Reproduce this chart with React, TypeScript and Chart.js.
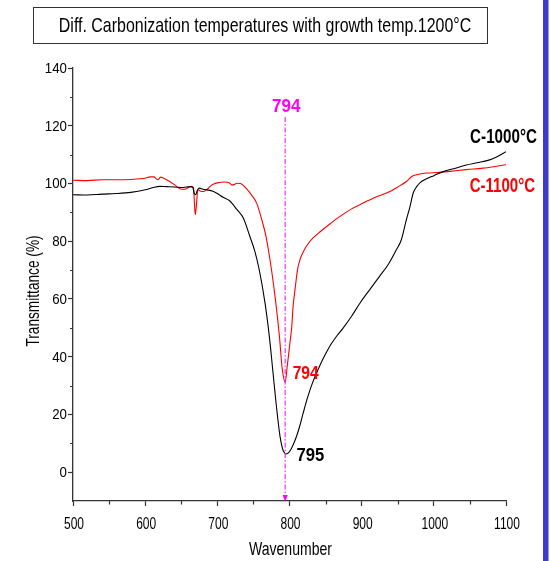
import { useEffect, useRef } from "react";
import { Chart, registerables } from "chart.js";

Chart.register(...registerables);

const FONT = "'Liberation Sans', Arial, Helvetica, sans-serif";
const AXIS_COLOR = "#333333";
const TEXT_COLOR = "#000000";
const MARKER_COLOR = "#ff00ff";

const titleText = "Diff. Carbonization temperatures with growth temp.1200°C";
const xAxisTitle = "Wavenumber";
const yAxisTitle = "Transmittance (%)";
const xTickLabels = [500, 600, 700, 800, 900, 1000, 1100];
const yTickLabels = [0, 20, 40, 60, 80, 100, 120, 140];

const seriesNames = ["C-1000°C", "C-1100°C"];

// C-1000°C spectrum
const wavenumber1000 = [
  500, 520, 540, 560, 580, 600, 611, 620, 630, 640, 653, 662, 666, 668, 670, 672, 675, 680,
  685, 694, 700, 708, 717, 727, 736, 745, 752, 758, 766, 772, 776.7, 781.3, 786.8, 790.5,
  793, 795, 798, 801, 804, 807, 810, 814, 819, 825, 832, 838, 846, 856, 865, 874, 886,
  898, 912, 925, 937, 948, 955, 962, 967, 971.5, 976, 981, 990, 1000, 1013, 1030, 1045,
  1060, 1075, 1087, 1100,
];
const transmittance1000 = [
  96.1, 96.0, 96.3, 96.5, 96.9, 97.8, 98.6, 99.0, 98.9, 98.8, 98.6, 98.9, 98.6, 96.5, 96.1,
  97.5, 98.4, 98.0, 97.8, 97.3, 96.5, 95.2, 94.0, 91.0, 88.0, 81.7, 76.5, 70.2, 58.7, 47.1,
  35.6, 24.1, 12.5, 8.0, 6.7, 6.3, 6.6, 7.5, 8.9, 10.6, 12.6, 15.8, 20.5, 25.8, 31.0, 34.6,
  39.0, 43.7, 47.0, 49.8, 54.0, 58.7, 63.5, 67.9, 72.0, 77.0, 80.5, 87.5, 92.0, 96.8, 98.8,
  100.3, 101.6, 102.7, 104.1, 105.3, 106.4, 107.2, 108.0, 109.2, 111.0,
];

// C-1100°C spectrum
const wavenumber1100 = [
  500, 520, 540, 560, 580, 600, 607, 612, 616, 618, 621, 625, 634, 641, 648, 655, 660, 664,
  667, 668.5, 669.5, 671, 673, 677, 681, 686, 690, 695, 700, 710, 717, 720, 723, 727, 732,
  738, 745, 754.5, 761.5, 767.4, 775, 781, 786, 790, 794, 797, 800.7, 803, 805, 808, 811,
  815, 820, 826, 833, 842, 855, 870, 886, 902, 920, 939, 950, 962, 970, 976, 990, 1004,
  1022, 1045, 1068, 1085, 1100,
];
const transmittance1100 = [
  101.1, 101.0, 101.3, 101.3, 101.4, 101.8, 102.3, 102.3, 101.5, 101.3, 102.2, 101.9, 100.7,
  99.5, 98.2, 98.0, 98.6, 99.0, 98.5, 92.0, 89.2, 92.5, 97.8, 97.3, 97.2, 98.0, 99.0, 99.8,
  100.2, 100.5, 100.2, 99.5, 99.6, 100.1, 100.0, 98.8, 96.8, 93.2, 87.5, 81.7, 70.2, 58.7,
  47.1, 35.6, 31.2, 37.0, 45.0, 50.0, 57.5, 64.0, 70.0, 74.0, 76.8, 79.2, 81.2, 83.2, 85.8,
  88.6, 91.2, 93.2, 95.3, 97.2, 98.8, 100.7, 102.5, 103.0, 103.6, 103.8, 104.2, 104.8, 105.3,
  105.9, 106.5,
];

// Band positions written on the plot
const peak1000 = 795;
const peak1100 = 794;
const markerWavenumber = 794;
const markerTop = 123;

function valueAt(xs: number[], ys: number[], x: number): number {
  const i = xs.indexOf(x);
  return i >= 0 ? ys[i] : ys[0];
}

function squeezeText(
  ctx: CanvasRenderingContext2D,
  text: string,
  x: number,
  y: number,
  font: string,
  color: string,
  align: CanvasTextAlign,
  sx: number,
  angle = 0
) {
  ctx.save();
  ctx.translate(x, y);
  if (angle) ctx.rotate(angle);
  ctx.scale(sx, 1);
  ctx.font = font;
  ctx.fillStyle = color;
  ctx.textAlign = align;
  ctx.textBaseline = "alphabetic";
  ctx.fillText(text, 0, 0);
  ctx.restore();
}

const decorPlugin = {
  id: "decor",
  afterDraw(chart: any) {
    const { ctx, chartArea: a, scales } = chart;
    const x = scales.x;
    const y = scales.y;
    ctx.save();

    // minor tick marks
    ctx.strokeStyle = AXIS_COLOR;
    ctx.lineWidth = 1.2;
    ctx.beginPath();
    for (let v = 10; v < 140; v += 20) {
      const py = Math.round(y.getPixelForValue(v)) + 0.5;
      ctx.moveTo(a.left - 3, py);
      ctx.lineTo(a.left, py);
    }
    for (let v = 550; v < 1100; v += 100) {
      const px = Math.round(x.getPixelForValue(v)) + 0.5;
      ctx.moveTo(px, a.bottom);
      ctx.lineTo(px, a.bottom + 3.5);
    }
    ctx.stroke();

    // tick labels
    yTickLabels.forEach((v) => {
      squeezeText(ctx, String(v), a.left - 6, y.getPixelForValue(v) + 5, `14px ${FONT}`, TEXT_COLOR, "right", 0.95);
    });
    xTickLabels.forEach((v) => {
      squeezeText(ctx, String(v), x.getPixelForValue(v) + 1, a.bottom + 27.5, `16px ${FONT}`, TEXT_COLOR, "center", 0.75);
    });

    // axis titles
    squeezeText(ctx, xAxisTitle, (a.left + a.right) / 2 + 1, a.bottom + 54, `18.5px ${FONT}`, TEXT_COLOR, "center", 0.76);
    squeezeText(ctx, yAxisTitle, a.left - 34, (a.top + a.bottom) / 2 + 6.5, `18px ${FONT}`, TEXT_COLOR, "center", 0.76, -Math.PI / 2);

    // title box
    ctx.strokeStyle = AXIS_COLOR;
    ctx.lineWidth = 1;
    ctx.strokeRect(33.5, 7.5, 454, 36);
    squeezeText(ctx, titleText, 265, 32, `21px ${FONT}`, TEXT_COLOR, "center", 0.76);

    // band marker line
    const mx = x.getPixelForValue(markerWavenumber);
    ctx.strokeStyle = MARKER_COLOR;
    ctx.lineWidth = 1;
    ctx.setLineDash([5, 2, 1.5, 2]);
    ctx.beginPath();
    ctx.moveTo(mx, y.getPixelForValue(markerTop));
    ctx.lineTo(mx, a.bottom - 5);
    ctx.stroke();
    ctx.setLineDash([]);
    ctx.fillStyle = MARKER_COLOR;
    ctx.beginPath();
    ctx.moveTo(mx - 2.5, a.bottom - 6);
    ctx.lineTo(mx + 2.5, a.bottom - 6);
    ctx.lineTo(mx, a.bottom + 1);
    ctx.closePath();
    ctx.fill();
    squeezeText(ctx, String(markerWavenumber), mx + 1, y.getPixelForValue(124.8), `bold 18.5px ${FONT}`, MARKER_COLOR, "center", 0.92);

    // band minimum labels
    const min1100 = valueAt(wavenumber1100, transmittance1100, peak1100);
    const min1000 = valueAt(wavenumber1000, transmittance1000, peak1000);
    squeezeText(ctx, String(peak1100), x.getPixelForValue(peak1100) + 7.5, y.getPixelForValue(min1100) - 3, `bold 17.7px ${FONT}`, "#ff0000", "left", 0.88);
    squeezeText(ctx, String(peak1000), x.getPixelForValue(peak1000) + 10.5, y.getPixelForValue(min1000) + 7.5, `bold 18.5px ${FONT}`, "#000000", "left", 0.9);

    // series names at the right end
    const end1000 = transmittance1000[transmittance1000.length - 1];
    const end1100 = transmittance1100[transmittance1100.length - 1];
    squeezeText(ctx, seriesNames[0], a.right + 31, y.getPixelForValue(end1000) - 9, `bold 20px ${FONT}`, "#000000", "right", 0.76);
    squeezeText(ctx, seriesNames[1], a.right + 29, y.getPixelForValue(end1100) + 27, `bold 19.5px ${FONT}`, "#ff0000", "right", 0.77);

    // page edge bar
    ctx.fillStyle = "#3c3cc8";
    ctx.fillRect(543, 0, 5.5, chart.height);

    ctx.restore();
  },
};

export default function App() {
  const canvasRef = useRef<HTMLCanvasElement | null>(null);

  useEffect(() => {
    document.body.style.margin = "0";
    const canvas = canvasRef.current;
    if (!canvas) return;

    const toPoints = (xs: number[], ys: number[]) => xs.map((w, i) => ({ x: w, y: ys[i] }));

    const chart = new Chart(canvas, {
      type: "line",
      data: {
        datasets: [
          {
            label: seriesNames[0],
            data: toPoints(wavenumber1000, transmittance1000),
            borderColor: "#000000",
            borderWidth: 1.1,
            pointRadius: 0,
            cubicInterpolationMode: "monotone",
            fill: false,
          },
          {
            label: seriesNames[1],
            data: toPoints(wavenumber1100, transmittance1100),
            borderColor: "#ff0000",
            borderWidth: 1.1,
            pointRadius: 0,
            cubicInterpolationMode: "monotone",
            fill: false,
          },
        ],
      },
      options: {
        animation: false,
        responsive: false,
        devicePixelRatio: 1,
        layout: { padding: { left: 68, top: 68, right: 44, bottom: 55 } },
        plugins: {
          legend: { display: false },
          title: { display: false },
          tooltip: { enabled: false },
        },
        scales: {
          x: {
            type: "linear",
            min: 500,
            max: 1100,
            ticks: { stepSize: 50, display: false },
            grid: {
              drawOnChartArea: false,
              drawTicks: true,
              tickLength: 5,
              tickWidth: 1.2,
              tickColor: (c: any) => (c.tick && c.tick.value % 100 === 0 ? AXIS_COLOR : "rgba(0,0,0,0)"),
            },
            border: { display: true, color: AXIS_COLOR, width: 1.3 },
            afterFit: (s: any) => {
              s.height = 5;
            },
          },
          y: {
            type: "linear",
            min: -10,
            max: 140,
            ticks: { stepSize: 10, display: false },
            grid: {
              drawOnChartArea: false,
              drawTicks: true,
              tickLength: 5,
              tickWidth: 1.2,
              tickColor: (c: any) =>
                c.tick && c.tick.value % 20 === 0 && c.tick.value >= 0 ? AXIS_COLOR : "rgba(0,0,0,0)",
            },
            border: { display: true, color: AXIS_COLOR, width: 1.3 },
            afterFit: (s: any) => {
              s.width = 5;
            },
          },
        },
      },
      plugins: [decorPlugin],
    });

    return () => chart.destroy();
  }, []);

  return <canvas ref={canvasRef} width={550} height={561} style={{ display: "block", width: 550, height: 561 }} />;
}
